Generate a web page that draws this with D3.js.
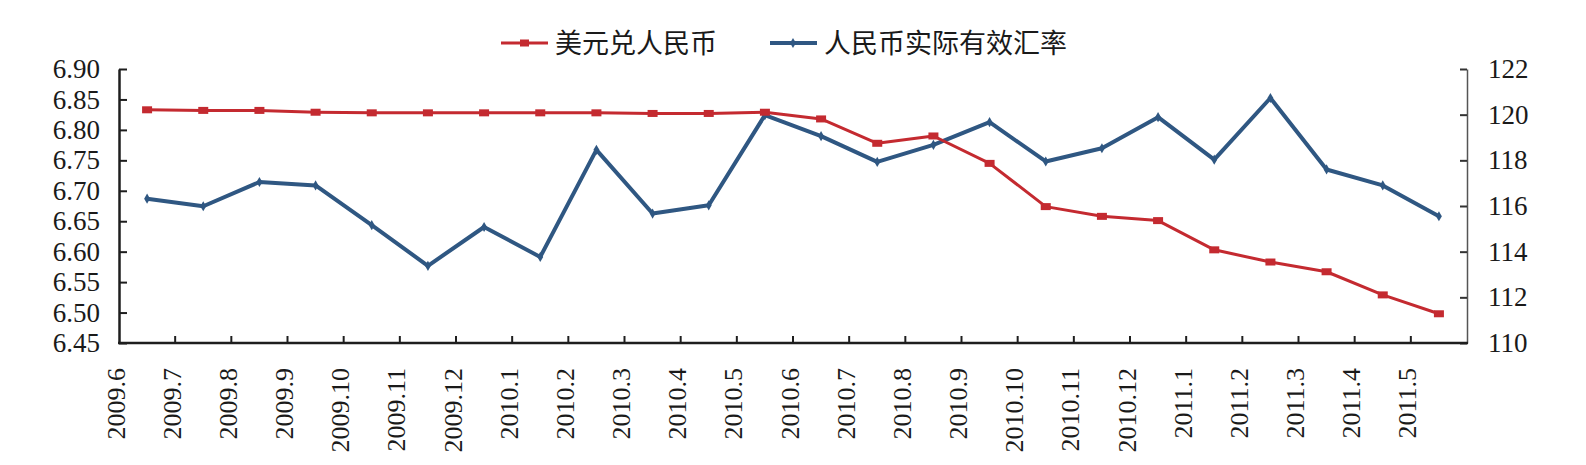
<!DOCTYPE html>
<html>
<head>
<meta charset="utf-8">
<script src="https://cdn.jsdelivr.net/npm/d3@7"></script>
<style>
  body { margin: 0; background: #fff; }
  svg { display: block; }
</style>
</head>
<body>
<div id="chart"></div>
<script>
const months = [
  "2009.6", "2009.7", "2009.8", "2009.9", "2009.10", "2009.11", "2009.12",
  "2010.1", "2010.2", "2010.3", "2010.4", "2010.5", "2010.6", "2010.7",
  "2010.8", "2010.9", "2010.10", "2010.11", "2010.12", "2011.1", "2011.2",
  "2011.3", "2011.4", "2011.5",
];
// 美元兑人民币 (left axis)
const usdCny = [
  6.833, 6.832, 6.832, 6.829, 6.828, 6.828, 6.828, 6.828, 6.828, 6.827,
  6.827, 6.829, 6.818, 6.778, 6.79, 6.745, 6.674, 6.658, 6.651, 6.603,
  6.583, 6.567, 6.529, 6.498,
];
// 人民币实际有效汇率 (right axis)
const reer = [
  116.32, 115.99, 117.05, 116.9, 115.16, 113.38, 115.08, 113.77, 118.46,
  115.67, 116.03, 119.98, 119.06, 117.93, 118.68, 119.67, 117.95, 118.53,
  119.89, 118.03, 120.73, 117.6, 116.9, 115.55,
];
const leftTicks = [6.45, 6.5, 6.55, 6.6, 6.65, 6.7, 6.75, 6.8, 6.85, 6.9];
const rightTicks = [110, 112, 114, 116, 118, 120, 122];
const seriesNames = ["美元兑人民币", "人民币实际有效汇率"];

const W = 1586,
  H = 465,
  plotLeft = 119,
  plotRight = 1467,
  plotTop = 69,
  plotBottom = 343;

const red = "#c42a30",
  blue = "#2f5782",
  serif = "'Liberation Serif', 'Times New Roman', serif",
  cjk = "'Noto Sans CJK SC', sans-serif";

const svg = d3
  .select("#chart")
  .append("svg")
  .attr("width", W)
  .attr("height", H)
  .attr("viewBox", `0 0 ${W} ${H}`);

const xScale = d3.scaleBand().domain(months).range([plotLeft, plotRight]);
const xMid = (i) => xScale(months[i]) + xScale.bandwidth() / 2;
const yLeft = d3.scaleLinear().domain([6.45, 6.9]).range([plotBottom, plotTop]);
const yRight = d3.scaleLinear().domain([110, 122]).range([plotBottom, plotTop]);

// left axis
const leftAxis = svg
  .append("g")
  .attr("transform", `translate(${plotLeft},0)`)
  .call(
    d3.axisLeft(yLeft)
      .tickValues(leftTicks)
      .tickFormat(d3.format(".2f"))
      .tickSizeInner(-8)
      .tickSizeOuter(0)
      .tickPadding(19)
  );
leftAxis.select(".domain").attr("stroke", "#1e1e1e").attr("stroke-width", 2.5);
leftAxis.selectAll(".tick line").attr("stroke", "#1e1e1e").attr("stroke-width", 2);
leftAxis
  .selectAll(".tick text")
  .attr("font-family", serif)
  .attr("font-size", "27px")
  .attr("fill", "#1a1a1a");

// right axis
const rightAxis = svg
  .append("g")
  .attr("transform", `translate(${plotRight},0)`)
  .call(
    d3.axisRight(yRight)
      .tickValues(rightTicks)
      .tickSizeInner(-7)
      .tickSizeOuter(0)
      .tickPadding(21)
  );
rightAxis.select(".domain").attr("stroke", "#555").attr("stroke-width", 1.5);
rightAxis.selectAll(".tick line").attr("stroke", "#333").attr("stroke-width", 2);
rightAxis
  .selectAll(".tick text")
  .attr("font-family", serif)
  .attr("font-size", "27px")
  .attr("fill", "#1a1a1a");

// bottom axis: ticks and labels at band starts
const xAxisGroup = svg.append("g");
xAxisGroup
  .append("line")
  .attr("x1", plotLeft - 1)
  .attr("x2", plotRight + 1)
  .attr("y1", plotBottom)
  .attr("y2", plotBottom)
  .attr("stroke", "#1e1e1e")
  .attr("stroke-width", 2.5);

xAxisGroup
  .selectAll(".xtick")
  .data(months.slice(1))
  .enter()
  .append("line")
  .attr("class", "xtick")
  .attr("x1", (d) => xScale(d))
  .attr("x2", (d) => xScale(d))
  .attr("y1", plotBottom)
  .attr("y2", plotBottom - 7)
  .attr("stroke", "#1e1e1e")
  .attr("stroke-width", 2);

xAxisGroup
  .selectAll(".xlabel")
  .data(months)
  .enter()
  .append("text")
  .attr("class", "xlabel")
  .attr("transform", (d) => `translate(${xScale(d) - 3},${plotBottom + 25}) rotate(-90)`)
  .attr("text-anchor", "end")
  .attr("dy", "0.33em")
  .attr("font-family", serif)
  .attr("font-size", "26px")
  .attr("fill", "#1a1a1a")
  .text((d) => d);

// lines
const blueLine = d3
  .line()
  .x((d, i) => xMid(i))
  .y((d) => yRight(d));
const redLine = d3
  .line()
  .x((d, i) => xMid(i))
  .y((d) => yLeft(d));

svg
  .append("path")
  .datum(reer)
  .attr("d", blueLine)
  .attr("fill", "none")
  .attr("stroke", blue)
  .attr("stroke-width", 4)
  .attr("stroke-linejoin", "round");

svg
  .append("g")
  .selectAll("path")
  .data(reer)
  .enter()
  .append("path")
  .attr("d", d3.symbol(d3.symbolDiamond, 30))
  .attr("transform", (d, i) => `translate(${xMid(i)},${yRight(d)})`)
  .attr("fill", blue);

svg
  .append("path")
  .datum(usdCny)
  .attr("d", redLine)
  .attr("fill", "none")
  .attr("stroke", red)
  .attr("stroke-width", 3)
  .attr("stroke-linejoin", "round");

svg
  .append("g")
  .selectAll("rect")
  .data(usdCny)
  .enter()
  .append("rect")
  .attr("x", (d, i) => xMid(i) - 5)
  .attr("y", (d) => yLeft(d) - 3.5)
  .attr("width", 10)
  .attr("height", 7)
  .attr("fill", red);

// legend
const legend = svg.append("g").attr("class", "legend");
const legendItems = [
  { name: seriesNames[0], color: red, x: 501, marker: "square" },
  { name: seriesNames[1], color: blue, x: 770, marker: "diamond" },
];
const legendY = 43;

legendItems.forEach((item) => {
  legend
    .append("line")
    .attr("x1", item.x)
    .attr("x2", item.x + 47)
    .attr("y1", legendY)
    .attr("y2", legendY)
    .attr("stroke", item.color)
    .attr("stroke-width", item.marker === "square" ? 3 : 4);
  if (item.marker === "square") {
    legend
      .append("rect")
      .attr("x", item.x + 19)
      .attr("y", legendY - 3.5)
      .attr("width", 9)
      .attr("height", 7)
      .attr("fill", item.color);
  } else {
    legend
      .append("path")
      .attr("d", d3.symbol(d3.symbolDiamond, 30))
      .attr("transform", `translate(${item.x + 23},${legendY})`)
      .attr("fill", item.color);
  }
  legend
    .append("text")
    .attr("x", item.x + 54)
    .attr("y", legendY)
    .attr("dy", "0.36em")
    .attr("font-family", cjk)
    .attr("font-size", "27px")
    .attr("fill", "#1a1a1a")
    .text(item.name);
});
</script>
</body>
</html>
